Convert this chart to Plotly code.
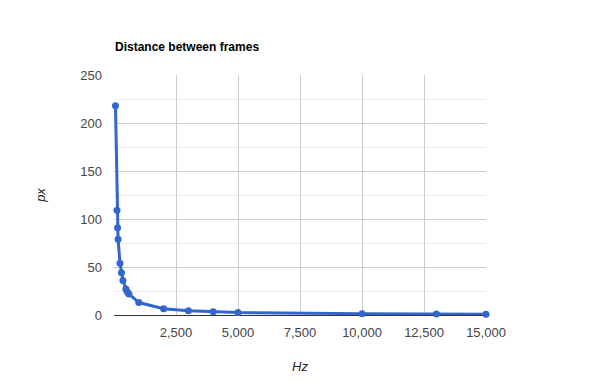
import plotly.graph_objects as go

hz = [60, 120, 144, 165, 240, 300, 360, 480, 540, 600, 1000, 2000, 3000, 4000, 5000, 10000, 13000, 15000]
px = [218, 109, 91, 79, 54, 44, 36, 27, 24, 22, 13, 6.5, 4.4, 3.3, 2.6, 1.3, 1.0, 0.9]
x_ticks = [2500, 5000, 7500, 10000, 12500, 15000]
y_ticks = [0, 50, 100, 150, 200, 250]

fig = go.Figure(go.Scatter(
    x=hz, y=px, mode="lines+markers",
    line=dict(color="#3366cc", width=3),
    marker=dict(color="#3366cc", size=7),
    cliponaxis=False,
    hoverinfo="x+y",
))

fig.update_layout(
    width=600, height=390,
    margin=dict(l=114, r=114, t=75, b=75),
    paper_bgcolor="white", plot_bgcolor="white",
    font=dict(family="Arial, Liberation Sans, sans-serif", size=13, color="#444"),
    title=dict(text="<b>Distance between frames</b>", x=115/600, xanchor="left",
               y=1-47/390, yanchor="middle",
               font=dict(size=12, color="#000")),
    showlegend=False,
    xaxis=dict(range=[0, 15000], tickvals=x_ticks, ticktext=[f"{v:,}" for v in x_ticks],
               showgrid=True, gridcolor="#cccccc", gridwidth=1, zeroline=False,
               showline=False, ticks="", ticklabelstandoff=8,
               title=dict(text="<i>Hz</i>", font=dict(size=13, color="#222"), standoff=22)),
    yaxis=dict(range=[0, 250], tickvals=y_ticks,
               showgrid=True, gridcolor="#cccccc", gridwidth=1,
               zeroline=True, zerolinecolor="#333333", zerolinewidth=1,
               showline=False, ticks="", ticklabelstandoff=11,
               minor=dict(dtick=25, tick0=0, showgrid=True, gridcolor="#ebebeb", gridwidth=1),
               title=dict(text="<i>px</i>", font=dict(size=13, color="#222"), standoff=31)),
)

fig.write_html("out.html")
